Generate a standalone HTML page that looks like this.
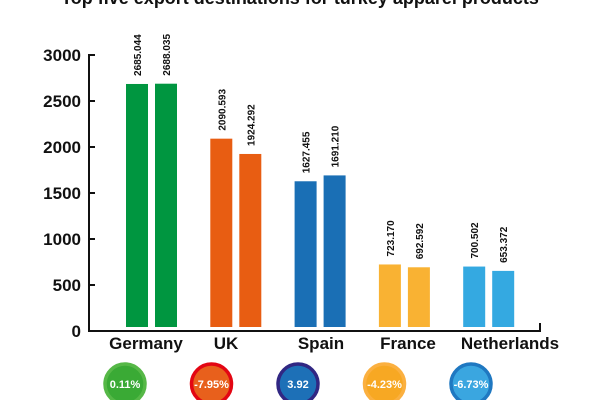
<!DOCTYPE html>
<html><head><meta charset="utf-8"><style>
body{margin:0;background:#fff;}
svg{display:block;font-family:"Liberation Sans",sans-serif;}
</style></head><body>
<svg id="chart" width="600" height="400" viewBox="0 0 600 400">
<text x="300" y="4" text-anchor="middle" font-size="18" font-weight="bold" fill="#111">Top five export destinations for turkey apparel products</text>
<g id="axes"></g><g id="bars"></g><g id="labels"></g><g id="badges"></g>
</svg>
<script>
const categories=["Germany","UK","Spain","France","Netherlands"];
const series1=[2685.044,2090.593,1627.455,723.170,700.502];
const series2=[2688.035,1924.292,1691.210,692.592,653.372];
const series1Labels=["2685.044","2090.593","1627.455","723.170","700.502"];
const series2Labels=["2688.035","1924.292","1691.210","692.592","653.372"];
const changes=["0.11%","-7.95%","3.92","-4.23%","-6.73%"];
const yTicks=[0,500,1000,1500,2000,2500,3000];

const colors=["#009640","#e85d12","#1a6fb5","#f9b233","#34a9e1"];
const badgeFill=["#3aaa35","#e8601c","#1d70b7","#f7a823","#3aa6e0"];
const badgeStroke=["#56b847","#e30613","#312783","#fbb040","#1f78c1"];
const NS="http://www.w3.org/2000/svg";
const y0=331,yPer=276/3000;
const y=v=>y0-v*yPer;
const groupX=i=>126+i*84.3;
function mk(tag,attrs,parent){const e=document.createElementNS(NS,tag);for(const k in attrs)e.setAttribute(k,attrs[k]);parent.appendChild(e);return e;}
const axes=document.getElementById('axes');
let l=mk('path',{d:`M95 ${y(3000)} H89 V${y0} H540 V${y0-8}`,stroke:'#111','stroke-width':2,fill:'none'},axes);


yTicks.forEach(t=>{
 const tk=mk('line',{x1:89,x2:95,y1:y(t),y2:y(t),stroke:'#111','stroke-width':2},axes);
 
 
 const tx=mk('text',{x:81,y:y(t)+6,'text-anchor':'end','font-size':17,'font-weight':'bold',fill:'#111'},axes);
 tx.textContent=t;
 
 
});
const bars=document.getElementById('bars'),labels=document.getElementById('labels'),badges=document.getElementById('badges');
const labelCx=[146,226,321,408,510];
categories.forEach((c,i)=>{
 const gx=groupX(i);
 [[series1,series1Labels,0],[series2,series2Labels,29]].forEach(([s,sl,off])=>{
  const x=gx+off;
  const r=mk('rect',{x:x,y:y(s[i]),width:22,height:y0-4-y(s[i]),fill:colors[i]},bars);
  
  
  const t=mk('text',{x:0,y:0,'font-size':10,'font-weight':'bold',fill:'#111',transform:`translate(${x+15},${y(s[i])-8}) rotate(-90)`},labels);
  t.textContent=sl[i];
  
  
 });
 const cl=mk('text',{x:labelCx[i],y:349,'text-anchor':'middle','font-size':17,'font-weight':'bold',fill:'#111'},labels);
 cl.textContent=c;
 
 
 const cx=125+i*86.5;
 const ci=mk('circle',{cx:cx,cy:384,r:20,fill:badgeFill[i],stroke:badgeStroke[i],'stroke-width':3.5},badges);
 
 
 const ct=mk('text',{x:cx,y:388,'text-anchor':'middle','font-size':11,'font-weight':'bold',fill:'#fff'},badges);
 ct.textContent=changes[i];
 
 
});
</script>
</body></html>
